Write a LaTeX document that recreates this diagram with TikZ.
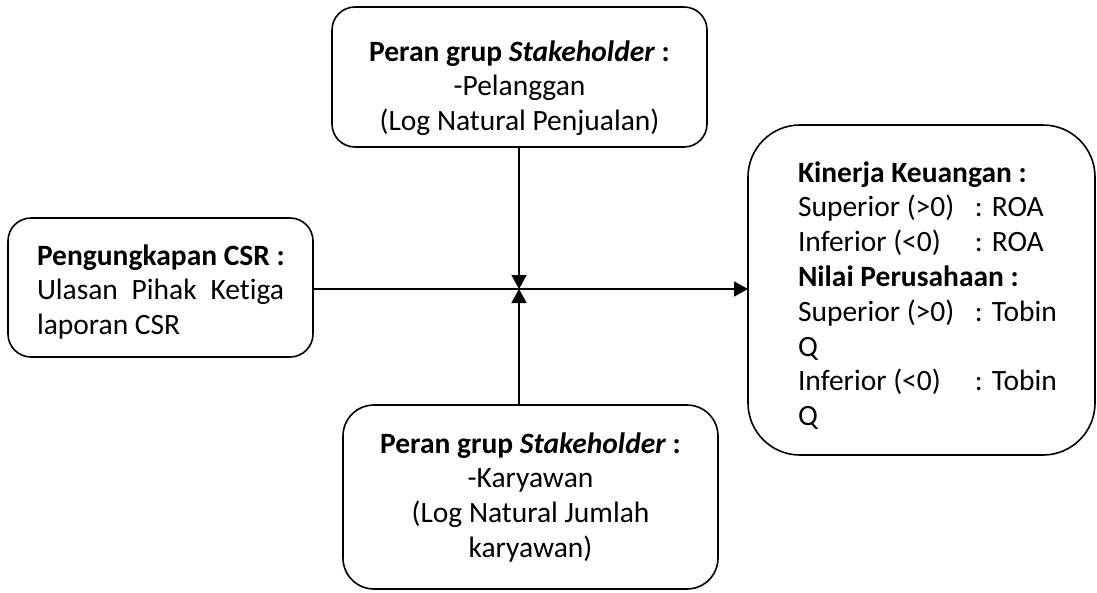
\documentclass[tikz,border=0pt]{standalone}
\usepackage{fontspec}
\setmainfont{Carlito}[Ligatures=NoCommon]
\usetikzlibrary{arrows.meta}
\begin{document}
\begin{tikzpicture}[x=1pt,y=-1pt,
  box/.style={draw, line width=1.6pt, inner sep=0pt, outer sep=0pt},
  conn/.style={line width=1.6pt, -{Triangle[length=14pt,width=15pt]}},
  font=\fontsize{29.5}{34.8}\selectfont]
\useasboundingbox (0,0) rectangle (1097,592);
\node[box, rounded corners=23pt] (ptop) at (519.5,77)
  {\parbox[c][140pt][t]{375pt}{\centering\rule{0pt}{54pt}\textbf{Peran grup \textit{Stakeholder} :}\\ -Pelanggan\\ (Log Natural Penjualan)}};
\node[box, rounded corners=31pt] (pbot) at (530.5,497)
  {\parbox[c][184pt][t]{375pt}{\centering\rule{0pt}{48pt}\textbf{Peran grup \textit{Stakeholder} :}\\ -Karyawan\\ (Log Natural Jumlah\\ karyawan)}};
\node[box, rounded corners=23pt] (csr) at (160.5,287.5)
  {\parbox[c][139pt][t]{305pt}{\raggedright\leftskip=29pt\relax\rule{0pt}{47pt}\textbf{Pengungkapan CSR :}\\ \makebox[247pt][s]{Ulasan Pihak Ketiga}\\ laporan CSR}};
\node[box, rounded corners=52pt] (kin) at (921.5,290)
  {\parbox[c][330pt][t]{347pt}{\raggedright\leftskip=50pt\relax\rule{0pt}{57pt}\textbf{Kinerja Keuangan :}\\
   \makebox[177pt][l]{Superior (>0)}: ROA\\
   \makebox[177pt][l]{Inferior (<0)}: ROA\\
   \textbf{Nilai Perusahaan :}\\
   \makebox[177pt][l]{Superior (>0)}: Tobin\\
   Q\\
   \makebox[177pt][l]{Inferior (<0)}: Tobin\\
   Q}};
\coordinate (j) at (519,289);
\draw[conn] (ptop.south -| j) -- (j);
\draw[conn] (pbot.north -| j) -- (j);
\draw[conn] (csr.east |- j) -- (kin.west |- j);
\end{tikzpicture}
\end{document}
